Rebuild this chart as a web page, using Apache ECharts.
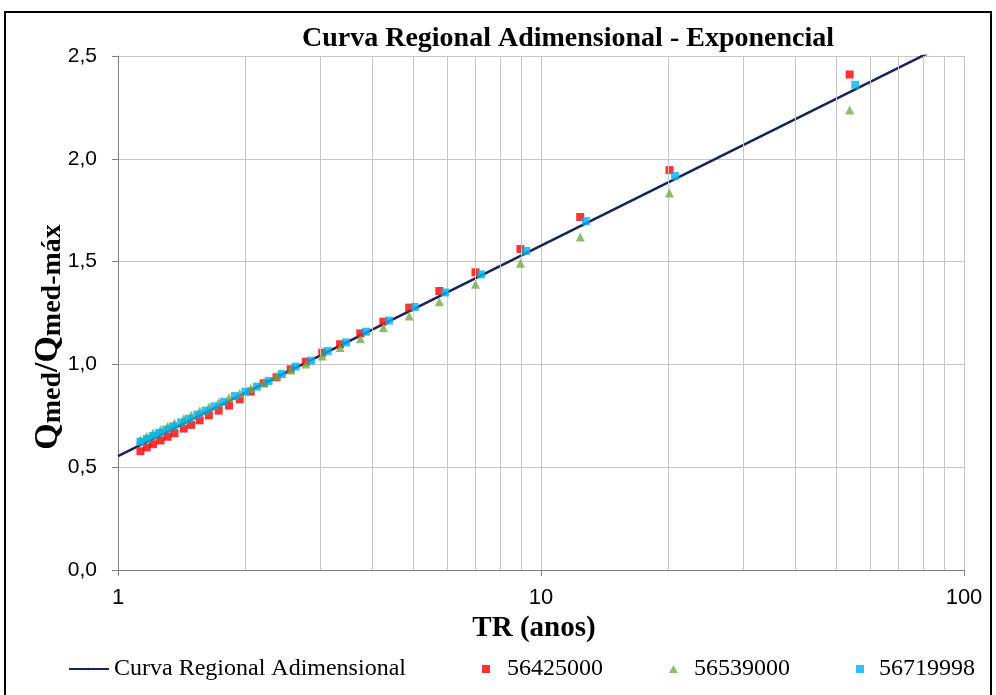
<!DOCTYPE html>
<html>
<head>
<meta charset="utf-8">
<script src="https://cdn.jsdelivr.net/npm/echarts@6/dist/echarts.min.js"></script>
<style>html,body{margin:0;padding:0;background:#fff}#c{width:996px;height:695px}</style>
</head>
<body>
<div id="c"></div>
<script>
// ---- data ----
const titleText = 'Curva Regional Adimensional - Exponencial';
const xAxisName = 'TR (anos)';
const seriesNames = ['Curva Regional Adimensional', '56425000', '56539000', '56719998'];
const minorGridX = [2, 3, 4, 5, 6, 7, 8, 9, 20, 30, 40, 50, 60, 70, 80, 90];
const curveTR = [1, 100];
const curveQ = [0.554, 2.601];
const tr56425000 = [53.67, 20.13, 12.38, 8.94, 7.00, 5.75, 4.88, 4.24, 3.74, 3.35, 3.04, 2.78, 2.56, 2.37, 2.21, 2.06, 1.94, 1.83, 1.73, 1.64, 1.56, 1.49, 1.43, 1.36, 1.31, 1.26, 1.21, 1.17, 1.13];
const q56425000 = [2.41, 1.945, 1.717, 1.561, 1.448, 1.357, 1.276, 1.208, 1.151, 1.098, 1.057, 1.013, 0.976, 0.937, 0.908, 0.868, 0.83, 0.80, 0.775, 0.752, 0.728, 0.706, 0.688, 0.665, 0.648, 0.630, 0.612, 0.596, 0.578];
const tr56539000 = [53.67, 20.13, 12.38, 8.94, 7.00, 5.75, 4.88, 4.24, 3.74, 3.35, 3.04, 2.78, 2.56, 2.37, 2.21, 2.06, 1.94, 1.83, 1.73, 1.64, 1.56, 1.49, 1.43, 1.36, 1.31, 1.26, 1.21, 1.17, 1.13];
const q56539000 = [2.237, 1.834, 1.62, 1.492, 1.39, 1.305, 1.235, 1.179, 1.125, 1.082, 1.041, 1.002, 0.973, 0.944, 0.911, 0.884, 0.859, 0.838, 0.815, 0.793, 0.773, 0.753, 0.736, 0.715, 0.699, 0.682, 0.666, 0.651, 0.634];
const tr56719998 = [55.33, 20.75, 12.77, 9.22, 7.22, 5.93, 5.03, 4.37, 3.86, 3.46, 3.13, 2.86, 2.63, 2.44, 2.27, 2.13, 2.00, 1.89, 1.78, 1.69, 1.61, 1.54, 1.47, 1.41, 1.35, 1.30, 1.25, 1.21, 1.17, 1.13];
const q56719998 = [2.36, 1.916, 1.697, 1.552, 1.438, 1.35, 1.279, 1.213, 1.159, 1.107, 1.065, 1.018, 0.989, 0.953, 0.919, 0.892, 0.867, 0.846, 0.818, 0.796, 0.775, 0.756, 0.736, 0.718, 0.699, 0.683, 0.667, 0.652, 0.638, 0.624];

const pairs = (xs, ys) => xs.map((x, i) => [x, ys[i]]);
const SERIF = "'Liberation Serif', 'Times New Roman', serif";
const SANS = "'Liberation Sans', Arial, sans-serif";
const GRID = '#C6C6C6';

const chart = echarts.init(document.getElementById('c'));
const legendBase = {
  top: 652, itemGap: 6,
  textStyle: { fontFamily: SERIF, fontSize: 24, color: '#000' }
};
chart.setOption({
  animation: false,
  backgroundColor: '#fff',
  title: {
    text: titleText, left: 563, top: 20, textAlign: 'center',
    textStyle: { fontFamily: SERIF, fontWeight: 'bold', fontSize: 28, color: '#000' }
  },
  grid: { left: 118, right: 32, top: 56, bottom: 125, containLabel: false },
  xAxis: {
    type: 'log', logBase: 10, min: 1, max: 100,
    name: xAxisName, nameLocation: 'middle', nameGap: 43,
    nameTextStyle: { fontFamily: SERIF, fontWeight: 'bold', fontSize: 29, color: '#000', padding: [0, 14, 0, 0] },
    axisLine: { lineStyle: { color: '#808080', width: 1 } },
    axisTick: { show: true, length: 6, lineStyle: { color: '#808080' } },
    axisLabel: { fontFamily: SANS, fontSize: 22, color: '#000', margin: 17 },
    splitLine: { show: true, lineStyle: { color: GRID, width: 1 } }
  },
  yAxis: {
    type: 'value', min: 0, max: 2.5, interval: 0.5,
    axisLine: { show: true, lineStyle: { color: '#808080', width: 1 } },
    axisTick: { show: true, length: 6, lineStyle: { color: '#808080' } },
    axisLabel: { fontFamily: SANS, fontSize: 21, color: '#000', margin: 21,
      formatter: v => v.toFixed(1).replace('.', ',') },
    splitLine: { show: true, lineStyle: { color: GRID, width: 1 } }
  },
  legend: [
    Object.assign({}, legendBase, { left: 63, data: [seriesNames[0]], itemWidth: 40, itemHeight: 3 }),
    Object.assign({}, legendBase, { left: 477, data: [seriesNames[1]], itemWidth: 8, itemHeight: 8,
      textStyle: Object.assign({}, legendBase.textStyle, { padding: [0, 0, 0, 12] }) }),
    Object.assign({}, legendBase, { left: 664, data: [seriesNames[2]], itemWidth: 9, itemHeight: 8,
      textStyle: Object.assign({}, legendBase.textStyle, { padding: [0, 0, 0, 11] }) }),
    Object.assign({}, legendBase, { left: 851, data: [seriesNames[3]], itemWidth: 8, itemHeight: 8,
      textStyle: Object.assign({}, legendBase.textStyle, { padding: [0, 0, 0, 10] }) })
  ],
  graphic: [
    { type: 'rect', shape: { x: 5, y: 12, width: 986, height: 692 },
      style: { fill: 'none', stroke: '#000', lineWidth: 2 }, silent: true, z: 100 },
    { type: 'text', x: 48, y: 337, rotation: Math.PI / 2,
      style: {
        text: '{q|Q}{s|med}{q|/Q}{s|med-máx}',
        align: 'center', verticalAlign: 'middle',
        rich: {
          q: { fontFamily: SERIF, fontWeight: 'bold', fontSize: 34, lineHeight: 38, fill: '#000' },
          s: { fontFamily: SERIF, fontWeight: 'bold', fontSize: 28, lineHeight: 38, verticalAlign: 'bottom', fill: '#000' }
        }
      } }
  ],
  series: [
    {
      name: seriesNames[0], type: 'line', data: pairs(curveTR, curveQ),
      symbol: 'none', clip: true, z: 3,
      lineStyle: { color: '#13235B', width: 2.5 }, itemStyle: { color: '#13235B' },
      markLine: {
        silent: true, symbol: 'none', label: { show: false }, animation: false,
        lineStyle: { color: GRID, width: 1, type: 'solid' },
        data: minorGridX.map(v => ({ xAxis: v }))
      }
    },
    { name: seriesNames[1], type: 'scatter', data: pairs(tr56425000, q56425000),
      symbol: 'rect', symbolSize: 8, itemStyle: { color: '#FF0000' }, z: 4 },
    { name: seriesNames[2], type: 'scatter', data: pairs(tr56539000, q56539000),
      symbol: 'triangle', symbolSize: 9, itemStyle: { color: '#70AD47' }, z: 5 },
    { name: seriesNames[3], type: 'scatter', data: pairs(tr56719998, q56719998),
      symbol: 'rect', symbolSize: 8, itemStyle: { color: '#00B0F0' }, z: 6 }
  ]
});
</script>
</body>
</html>
